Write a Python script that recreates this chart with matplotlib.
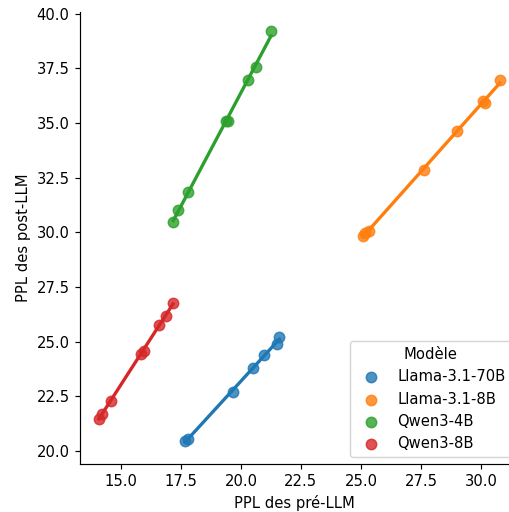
import numpy as np
import pandas as pd
import matplotlib
matplotlib.use("Agg")
import matplotlib.pyplot as plt
from matplotlib.ticker import MultipleLocator, FormatStrFormatter
import seaborn as sns

# Values
models = ["Llama-3.1-70B", "Llama-3.1-8B", "Qwen3-4B", "Qwen3-8B"]

llama70_pre = [17.67, 17.80, 19.65, 20.51, 20.96, 21.51, 21.60]
llama70_post = [20.43, 20.54, 22.71, 23.78, 24.39, 24.90, 25.20]

llama8_pre = [25.07, 25.17, 25.35, 27.63, 29.01, 30.07, 30.17, 30.79]
llama8_post = [29.81, 29.96, 30.08, 32.86, 34.65, 35.99, 35.91, 36.95]

qwen4_pre = [17.18, 17.36, 17.78, 19.36, 19.47, 20.30, 20.61, 21.25]
qwen4_post = [30.49, 31.03, 31.82, 35.07, 35.07, 36.95, 37.54, 39.22]

qwen8_pre = [14.08, 14.20, 14.58, 15.83, 15.96, 16.58, 16.88, 17.17]
qwen8_post = [21.47, 21.69, 22.29, 24.44, 24.58, 25.77, 26.18, 26.77]

pre = [llama70_pre, llama8_pre, qwen4_pre, qwen8_pre]
post = [llama70_post, llama8_post, qwen4_post, qwen8_post]

df = pd.concat(
    [pd.DataFrame({"pre": p, "post": q, "Modèle": m}) for m, p, q in zip(models, pre, post)],
    ignore_index=True,
)

colors = sns.color_palette("tab10", 4)

dpi = 106
fig = plt.figure(figsize=(509 / dpi, 512 / dpi), dpi=dpi)
ax = fig.add_axes([0.157, 0.094, 0.843, 0.883])

for m, c in zip(models, colors):
    sub = df[df["Modèle"] == m]
    sns.regplot(data=sub, x="pre", y="post", ci=None, color=c, ax=ax, label=m,
                scatter_kws={"s": 50})

ax.set_xlim(13.29, 31.17)
ax.set_ylim(19.4, 40.09)
ax.xaxis.set_major_locator(MultipleLocator(2.5))
ax.yaxis.set_major_locator(MultipleLocator(2.5))
ax.xaxis.set_major_formatter(FormatStrFormatter("%.1f"))
ax.yaxis.set_major_formatter(FormatStrFormatter("%.1f"))
ax.set_xlabel("PPL des pré-LLM")
ax.set_ylabel("PPL des post-LLM")
sns.despine(ax=ax)

ax.legend(title="Modèle", loc="lower left", bbox_to_anchor=(0.688, 0.107),
          bbox_transform=fig.transFigure, borderaxespad=0)

fig.savefig("out.png", dpi=dpi)
